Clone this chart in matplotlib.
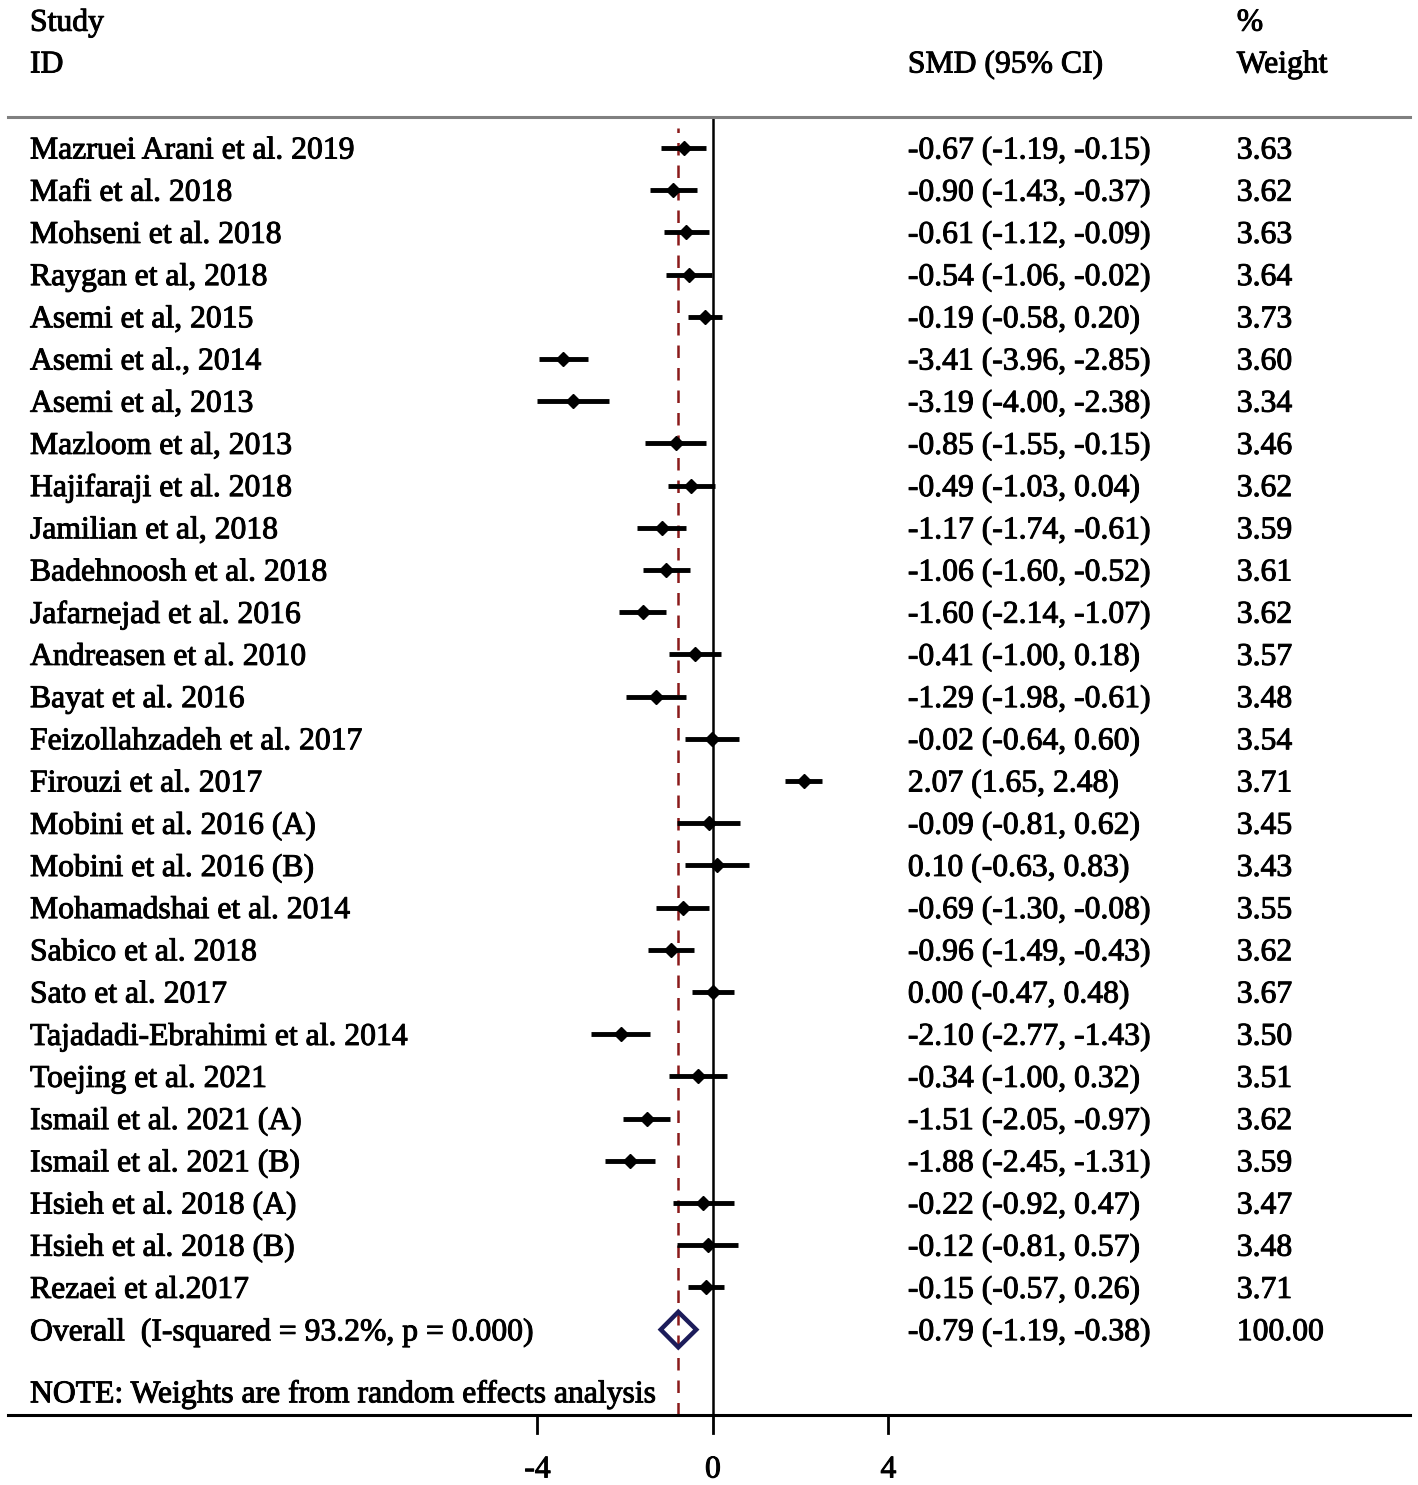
import matplotlib
matplotlib.use("Agg")
import matplotlib.pyplot as plt
from matplotlib.patches import Polygon
import matplotlib.patheffects as pe

studies = ["Mazruei Arani et al. 2019", "Mafi et al. 2018", "Mohseni et al. 2018",
           "Raygan et al, 2018", "Asemi et al, 2015", "Asemi et al., 2014",
           "Asemi et al, 2013", "Mazloom et al, 2013", "Hajifaraji et al. 2018",
           "Jamilian et al, 2018", "Badehnoosh et al. 2018", "Jafarnejad et al. 2016",
           "Andreasen et al. 2010", "Bayat et al. 2016", "Feizollahzadeh et al. 2017",
           "Firouzi et al. 2017", "Mobini et al. 2016 (A)", "Mobini et al. 2016 (B)",
           "Mohamadshai et al. 2014", "Sabico et al. 2018", "Sato et al. 2017",
           "Tajadadi-Ebrahimi et al. 2014", "Toejing et al. 2021", "Ismail et al. 2021 (A)",
           "Ismail et al. 2021 (B)", "Hsieh et al. 2018 (A)", "Hsieh et al. 2018 (B)",
           "Rezaei et al.2017"]
smd = [-0.67, -0.90, -0.61, -0.54, -0.19, -3.41, -3.19, -0.85, -0.49, -1.17, -1.06, -1.60,
       -0.41, -1.29, -0.02, 2.07, -0.09, 0.10, -0.69, -0.96, 0.00, -2.10, -0.34, -1.51,
       -1.88, -0.22, -0.12, -0.15]
lower = [-1.19, -1.43, -1.12, -1.06, -0.58, -3.96, -4.00, -1.55, -1.03, -1.74, -1.60, -2.14,
         -1.00, -1.98, -0.64, 1.65, -0.81, -0.63, -1.30, -1.49, -0.47, -2.77, -1.00, -2.05,
         -2.45, -0.92, -0.81, -0.57]
upper = [-0.15, -0.37, -0.09, -0.02, 0.20, -2.85, -2.38, -0.15, 0.04, -0.61, -0.52, -1.07,
         0.18, -0.61, 0.60, 2.48, 0.62, 0.83, -0.08, -0.43, 0.48, -1.43, 0.32, -0.97,
         -1.31, 0.47, 0.57, 0.26]
weights = [3.63, 3.62, 3.63, 3.64, 3.73, 3.60, 3.34, 3.46, 3.62, 3.59, 3.61, 3.62, 3.57,
           3.48, 3.54, 3.71, 3.45, 3.43, 3.55, 3.62, 3.67, 3.50, 3.51, 3.62, 3.59, 3.47,
           3.48, 3.71]
overall_label = "Overall  (I-squared = 93.2%, p = 0.000)"
overall = (-0.79, -1.19, -0.38)
overall_weight = 100.00
xticks = [-4, 0, 4]
note = "NOTE: Weights are from random effects analysis"

W, H = 1418, 1485
fig = plt.figure(figsize=(W / 100, H / 100), dpi=100)
plt.rcParams['font.family'] = ['Liberation Serif', 'DejaVu Serif']

# axes: pixel x 8..1410, y 117..1415
ax = fig.add_axes([8 / W, 1 - 1415 / H, (1410 - 8) / W, (1415 - 117) / H])
ax.set_xlim(-16.07, 15.89)
row_h = 42.2
ax.set_ylim((1415 - 148) / row_h, -(148 - 117) / row_h)
ax.axis('off')

FS = 22.8
thick = [pe.withStroke(linewidth=0.7, foreground='black')]
dy = 3 / row_h


def txt(x, y, s, **kw):
    kw.setdefault('ha', 'left')
    ax.text(x, y + dy, s, fontsize=FS, va='center', path_effects=thick, clip_on=False, **kw)


n = len(studies)
xs_name = -16.07 + (30 - 8) / 43.875
xs_smd = -16.07 + (908 - 8) / 43.875
xs_w = -16.07 + (1237 - 8) / 43.875

for i in range(n):
    ax.plot([lower[i], upper[i]], [i, i], color='black', lw=3.5, solid_capstyle='butt', zorder=3)
    ax.plot(smd[i], i, marker='D', ms=7.5, color='black', zorder=4)
    txt(xs_name, i, studies[i])
    txt(xs_smd, i, f"{smd[i]:.2f} ({lower[i]:.2f}, {upper[i]:.2f})")
    txt(xs_w, i, f"{weights[i]:.2f}")

yo = n
est, lo, hi = overall
dia = Polygon([(lo, yo), (est, yo - 0.42), (hi, yo), (est, yo + 0.42)], closed=True,
              fill=False, edgecolor='#1c1c5a', lw=3.2, zorder=5)
ax.add_patch(dia)
txt(xs_name, yo, overall_label)
txt(xs_smd, yo, f"{est:.2f} ({lo:.2f}, {hi:.2f})")
txt(xs_w, yo, f"{overall_weight:.2f}")
txt(xs_name, yo + (1392 - 1330) / row_h, note)

ybot, ytop = ax.get_ylim()
# vertical line at 0
ax.plot([0, 0], [ybot, ytop], color='black', lw=1.8, zorder=2)
# dashed overall line
ax.plot([est, est], [ybot, (128 - 148) / row_h], color='#8b1a1a', lw=1.8,
        dashes=(5, 4), zorder=2)
# top grey line
ax.plot([-16.07, 15.89], [ytop, ytop], color='#808080', lw=2.2, clip_on=False)
# bottom axis line
ax.plot([-16.07, 15.89], [ybot, ybot], color='black', lw=2.2, clip_on=False)
# ticks
tick_len = 18 / row_h
for t in xticks:
    ax.plot([t, t], [ybot, ybot + tick_len], color='black', lw=2, clip_on=False)
    txt(t, ybot + (1467 - 1415) / row_h, f"{t}", ha='center')

# headers
yh1 = (20 - 148) / row_h
yh2 = (62 - 148) / row_h
txt(xs_name, yh1, "Study")
txt(xs_name, yh2, "ID")
txt(xs_smd, yh2, "SMD (95% CI)")
txt(xs_w, yh1, "%")
txt(xs_w, yh2, "Weight")

fig.savefig("out.png", dpi=100, facecolor='white')
